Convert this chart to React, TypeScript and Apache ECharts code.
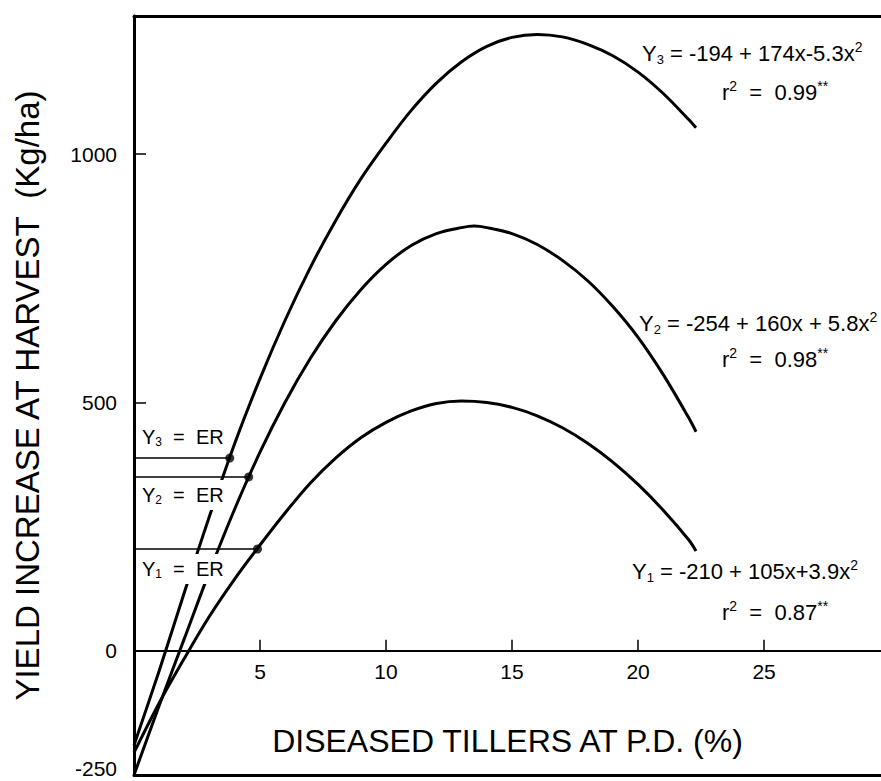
import { useEffect, useRef } from 'react';
import * as echarts from 'echarts';

// Data
const y3X = [0, 1, 2, 3, 4, 5, 6, 7, 8, 9, 10, 11, 12, 13, 14, 15, 16, 17, 18, 19, 20, 21, 22, 22.3];
const y3Values = [-190, -40, 118, 272, 418, 548, 666, 772, 866, 950, 1022, 1088, 1143, 1186, 1217, 1235, 1241, 1236, 1221, 1198, 1165, 1122, 1070, 1053];
const y2X = [0, 1, 2, 3, 4, 5, 6, 7, 8, 9, 10, 11, 12, 13, 13.5, 14, 15, 16, 17, 18, 19, 20, 21, 22, 22.3];
const y2Values = [-250, -110, 25, 160, 286, 400, 501, 589, 664, 727, 778, 816, 840, 852, 855, 852, 840, 818, 786, 745, 693, 631, 556, 470, 441];
const y1X = [0, 1, 2, 3, 4, 5, 6, 7, 8, 9, 10, 11, 12, 13, 14, 15, 16, 17, 18, 19, 20, 21, 22, 22.3];
const y1Values = [-205, -105, -15, 70, 145, 213, 278, 338, 388, 429, 460, 483, 498, 503, 500, 490, 473, 449, 418, 380, 335, 283, 224, 201];

// Economic-return (ER) levels and the x where each curve reaches it (Y3, Y2, Y1)
const erLevels = [388, 350, 205];
const erX = [3.8, 4.55, 4.9];

const xTickValues = [5, 10, 15, 20, 25];
const yLabelValues = [-250, 0, 500, 1000];
const yTickValues = [0, 500, 1000];

const xName = 'DISEASED TILLERS AT P.D. (%)';
const yName = 'YIELD INCREASE AT HARVEST  (Kg/ha)';

const equations = [
  { sub: '3', eq: ' = -194 + 174x-5.3x', r: '0.99' },
  { sub: '2', eq: ' = -254 + 160x + 5.8x', r: '0.98' },
  { sub: '1', eq: ' = -210 + 105x+3.9x', r: '0.87' },
];

const FONT = '"Liberation Sans", Arial, Helvetica, sans-serif';

const Y_MIN = -250;
const Y_MAX = 1278;
const X_MAX = 29.64;

export default function App() {
  const ref = useRef<HTMLDivElement>(null);

  useEffect(() => {
    if (!ref.current) return;
    const chart = echarts.init(ref.current, undefined, { renderer: 'svg' });
    const pts = (xs: number[], ys: number[]) => xs.map((x, i) => [x, ys[i]]);

    const gridTop = 16;
    const gridBottom = 6;
    const gridHeight = 781 - gridTop - gridBottom;
    // shift of the labelled x axis from the grid bottom up to the y = 0 line
    const zeroOffset = -((0 - Y_MIN) / (Y_MAX - Y_MIN)) * gridHeight;

    const eqRich = {
      m: { fontSize: 22, fontFamily: FONT, lineHeight: 26 },
      s: { fontSize: 13, fontFamily: FONT, lineHeight: 12, verticalAlign: 'bottom' },
      p: { fontSize: 14, fontFamily: FONT, lineHeight: 17, verticalAlign: 'top' },
    };
    const erRich = {
      e: { fontSize: 20, fontFamily: FONT, lineHeight: 22 },
      s: { fontSize: 12, fontFamily: FONT, lineHeight: 10, verticalAlign: 'bottom' },
    };

    const eqPos = [
      { x: 642, y: 53, ry: 92 },
      { x: 639, y: 323, ry: 359 },
      { x: 632, y: 571, ry: 612 },
    ];
    const erPos = [437, 495, 569];

    const graphics: any[] = [];
    equations.forEach((e, i) => {
      graphics.push({
        type: 'text',
        x: eqPos[i].x,
        y: eqPos[i].y,
        z: 100,
        style: {
          text: `{m|Y}{s|${e.sub}}{m|${e.eq}}{p|2}`,
          rich: eqRich,
          fill: '#000',
          align: 'left',
          verticalAlign: 'middle',
        },
      });
      graphics.push({
        type: 'text',
        x: 722,
        y: eqPos[i].ry,
        z: 100,
        style: {
          text: `{m|r}{p|2}{m|  =  ${e.r}}{p|**}`,
          rich: eqRich,
          fill: '#000',
          align: 'left',
          verticalAlign: 'middle',
        },
      });
      graphics.push({
        type: 'text',
        x: 140,
        y: erPos[i],
        z: 100,
        style: {
          text: `{e|Y}{s|${e.sub}}{e|  =  ER}`,
          rich: erRich,
          fill: '#000',
          align: 'left',
          verticalAlign: 'middle',
          backgroundColor: '#fff',
          padding: [4, 2, 4, 2],
        },
      });
    });

    const curve = (name: string, xs: number[], ys: number[]) => ({
      name,
      type: 'line',
      data: pts(xs, ys),
      smooth: 0.35,
      symbol: 'none',
      lineStyle: { color: '#000', width: 3 },
      z: 2,
    });

    const erLine = (i: number) => ({
      type: 'line',
      data: [[0, erLevels[i]], [erX[i], erLevels[i]]],
      symbol: 'none',
      lineStyle: { color: '#000', width: 1.5 },
      z: 2,
    });

    const plainAxis = (position: string) => ({
      type: 'value',
      min: 0,
      max: X_MAX,
      position,
      axisLine: { show: true, onZero: false, lineStyle: { color: '#000', width: 3 } },
      axisTick: { show: false },
      axisLabel: { show: false },
      splitLine: { show: false },
    });

    chart.setOption({
      animation: false,
      grid: {
        left: 134,
        right: 0,
        top: gridTop,
        bottom: gridBottom,
        containLabel: false,
        outerBoundsMode: 'none',
      },
      xAxis: [
        {
          type: 'value',
          min: 0,
          max: X_MAX,
          position: 'bottom',
          offset: zeroOffset,
          axisLine: { show: true, onZero: false, lineStyle: { color: '#000', width: 2 } },
          axisTick: { show: true, inside: true, length: 11, customValues: xTickValues, lineStyle: { color: '#000', width: 1.5 } },
          axisLabel: {
            show: true,
            customValues: xTickValues,
            margin: 10,
            fontSize: 21,
            fontFamily: FONT,
            color: '#000',
            formatter: (v: number) => String(v),
          },
          splitLine: { show: false },
          name: xName,
          nameLocation: 'middle',
          nameGap: 74,
          nameMoveOverlap: false,
          nameTextStyle: { fontSize: 32, fontFamily: FONT, color: '#000' },
        },
        plainAxis('top'),
        plainAxis('bottom'),
      ],
      yAxis: {
        type: 'value',
        min: Y_MIN,
        max: Y_MAX,
        axisLine: { show: true, onZero: false, lineStyle: { color: '#000', width: 3 } },
        axisTick: { show: true, inside: true, length: 12, customValues: yTickValues, lineStyle: { color: '#000', width: 1.5 } },
        axisLabel: {
          show: true,
          customValues: yLabelValues,
          margin: 17,
          fontSize: 21,
          fontFamily: FONT,
          color: '#000',
          formatter: (v: number) => (v === Y_MIN ? `{low|${v}}` : String(v)),
          rich: {
            low: { fontSize: 21, fontFamily: FONT, color: '#000', padding: [0, 0, 13, 0] },
          },
        },
        splitLine: { show: false },
        name: yName,
        nameLocation: 'middle',
        nameGap: 90,
        nameMoveOverlap: false,
        nameTextStyle: { fontSize: 33, fontFamily: FONT, color: '#000' },
      },
      series: [
        curve('Y3', y3X, y3Values),
        curve('Y2', y2X, y2Values),
        curve('Y1', y1X, y1Values),
        erLine(0),
        erLine(1),
        erLine(2),
        {
          type: 'scatter',
          data: erX.map((x, i) => [x, erLevels[i]]),
          symbolSize: 9,
          itemStyle: { color: '#000' },
          z: 5,
        },
      ],
      graphic: graphics,
    });

    return () => chart.dispose();
  }, []);

  return <div ref={ref} style={{ position: 'absolute', left: 0, top: 0, width: 881, height: 781, background: '#fff' }} />;
}
